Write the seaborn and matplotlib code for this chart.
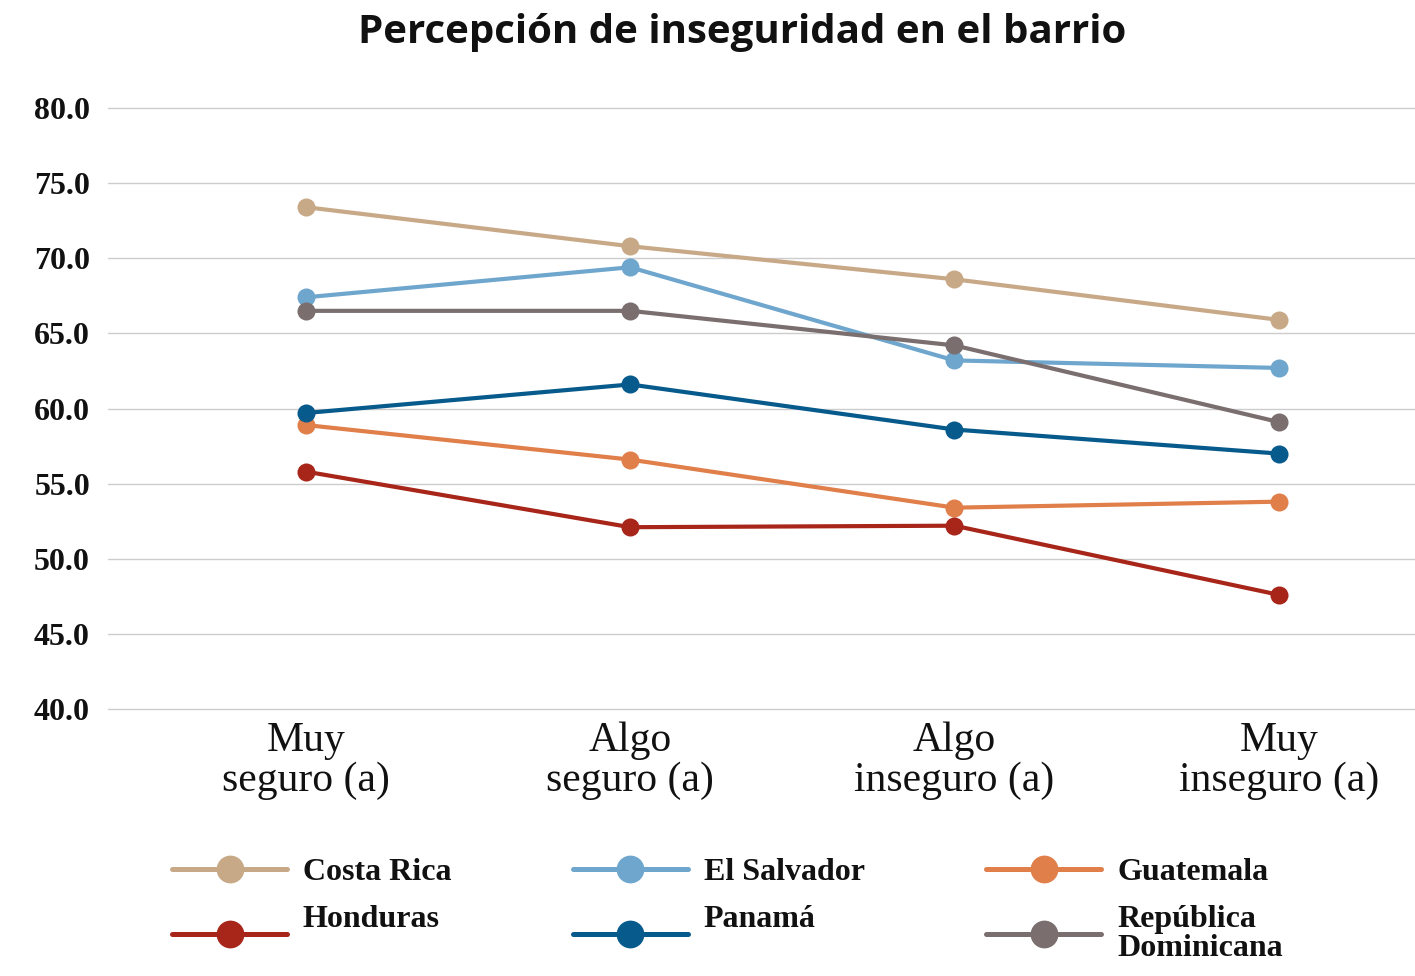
import pandas as pd
import matplotlib
matplotlib.use("Agg")
import matplotlib.pyplot as plt
import seaborn as sns
from matplotlib.lines import Line2D

# categories (x axis) and values per country
categories = ["Muy\nseguro (a)", "Algo\nseguro (a)", "Algo\ninseguro (a)", "Muy\ninseguro (a)"]
costa_rica = [73.4, 70.8, 68.6, 65.9]
el_salvador = [67.4, 69.4, 63.2, 62.7]
guatemala = [58.9, 56.6, 53.4, 53.8]
honduras = [55.8, 52.1, 52.2, 47.6]
panama = [59.7, 61.6, 58.6, 57.0]
rep_dominicana = [66.5, 66.5, 64.2, 59.1]

countries = ["Costa Rica", "El Salvador", "Guatemala", "Honduras", "Panamá",
             "República\nDominicana"]
series = [costa_rica, el_salvador, guatemala, honduras, panama, rep_dominicana]
colors = ["#C8A987", "#6FA6CD", "#E07F4A", "#A82519", "#075A8C", "#7A6E6E"]
yticks = [40, 45, 50, 55, 60, 65, 70, 75, 80]

rows = []
for name, vals in zip(countries, series):
    for cat, v in zip(categories, vals):
        rows.append({"pais": name, "nivel": cat, "valor": v})
df = pd.DataFrame(rows)

sns.set_style("white")
serif = ["Liberation Serif", "DejaVu Serif"]

fig = plt.figure(figsize=(14.15, 9.76), dpi=100)
ax = fig.add_axes([108 / 1415, 1 - 709 / 976, 1 - 108 / 1415, (709 - 108) / 976])

sns.lineplot(data=df, x="nivel", y="valor", hue="pais", hue_order=countries,
             palette=dict(zip(countries, colors)), marker="o", markersize=13,
             markeredgewidth=0, linewidth=3, sort=False, legend=False, ax=ax)

ax.set_ylim(40, 80)
ax.set_xlim(-0.61, 3.42)
ax.set_yticks(yticks)
ax.set_yticklabels([f"{t:.1f}" for t in yticks], fontfamily=serif,
                   fontweight="bold", fontsize=23, color="#111111")
ax.set_xticks(range(len(categories)))
ax.set_xticklabels(categories, fontfamily=serif, fontsize=30, linespacing=1.05,
                   color="#111111")
ax.tick_params(axis="y", length=0, pad=13)
ax.tick_params(axis="x", length=0, pad=9)
ax.grid(axis="y", color="#CCCCCC", linewidth=1)
for gl in ax.get_ygridlines():
    gl.set_clip_on(False)
ax.set_axisbelow(True)
for s in ax.spines.values():
    s.set_visible(False)
ax.set_xlabel("")
ax.set_ylabel("")

fig.text(742 / 1415, 1 - 32 / 976, "Percepción de inseguridad en el barrio",
         ha="center", va="center", fontsize=29, fontweight="bold", color="#111111",
         fontfamily=["Open Sans", "DejaVu Sans"])

# legend: fill column-wise, so reorder to get rows CR/ES/GT and HN/PA/RD
order = [0, 3, 1, 4, 2, 5]
handles = [Line2D([0], [0], color=colors[i], linewidth=3.6, marker="o",
                  markersize=20, markeredgewidth=0) for i in order]
labels = [countries[i] for i in order]
# second row labels share the two-line height of "República Dominicana"
labels = [lab + "\n" if lab in ("Honduras", "Panamá") else lab for lab in labels]
leg = fig.legend(handles, labels, ncol=3, loc="upper left",
                 bbox_to_anchor=(172 / 1415, 1 - 858 / 976), frameon=False,
                 prop={"family": serif, "weight": "bold", "size": 23},
                 handlelength=3.6, handletextpad=0.5, columnspacing=3.8,
                 labelspacing=0.55, borderpad=0, borderaxespad=0)
for t in leg.get_texts():
    t.set_linespacing(1.0)
    t.set_color("#111111")

fig.savefig("out.png", dpi=100)
